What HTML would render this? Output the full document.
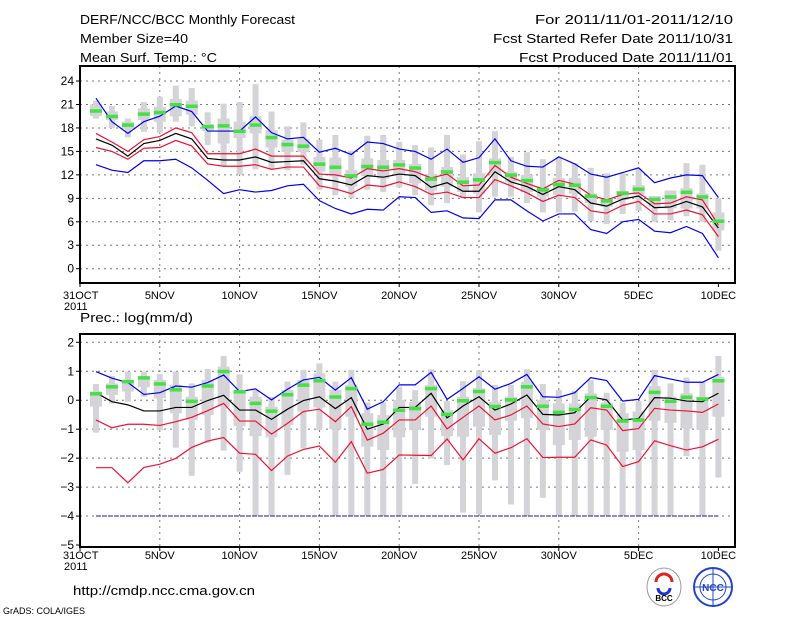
<!DOCTYPE html>
<html><head><meta charset="utf-8"><style>
body{margin:0;background:#fff;width:800px;height:618px;overflow:hidden;font-family:"Liberation Sans",sans-serif}
svg{position:absolute;left:0;top:0}
</style></head><body>
<svg id="c" width="800" height="618" xmlns="http://www.w3.org/2000/svg" font-family="Liberation Sans, sans-serif">
<text x="80" y="24" font-size="13" textLength="215" lengthAdjust="spacingAndGlyphs">DERF/NCC/BCC Monthly Forecast</text>
<text x="80" y="43" font-size="13" textLength="108" lengthAdjust="spacingAndGlyphs">Member Size=40</text>
<text x="80" y="62" font-size="13" textLength="137" lengthAdjust="spacingAndGlyphs">Mean Surf. Temp.: °C</text>
<text x="535" y="24" font-size="13" textLength="198" lengthAdjust="spacingAndGlyphs">For 2011/11/01-2011/12/10</text>
<text x="493" y="43" font-size="13" textLength="240" lengthAdjust="spacingAndGlyphs">Fcst Started Refer Date 2011/10/31</text>
<text x="519" y="62" font-size="13" textLength="214" lengthAdjust="spacingAndGlyphs">Fcst Produced Date 2011/11/01</text>
<text x="80" y="322" font-size="13" textLength="113" lengthAdjust="spacingAndGlyphs">Prec.: log(mm/d)</text>
<text x="73" y="595" font-size="13" textLength="182" lengthAdjust="spacingAndGlyphs">http://cmdp.ncc.cma.gov.cn</text>
<text x="3" y="614" font-size="9" textLength="82" lengthAdjust="spacingAndGlyphs">GrADS: COLA/IGES</text>
<g><ellipse cx="664" cy="587" rx="17" ry="19" fill="#fff" stroke="#999"/><path d="M656 582 a8 8 0 1 1 16 0" fill="none" stroke="#d22" stroke-width="3"/><path d="M658 588 a6 6 0 0 0 12 0" fill="none" stroke="#23c" stroke-width="3"/><text x="664" y="601" font-size="8" text-anchor="middle" font-weight="bold">BCC</text></g>
<g><circle cx="713" cy="587" r="19" fill="#fff" stroke="#24c" stroke-width="2"/><circle cx="713" cy="587" r="13" fill="none" stroke="#24c"/><line x1="694" y1="587" x2="732" y2="587" stroke="#24c"/><line x1="713" y1="568" x2="713" y2="606" stroke="#24c"/><text x="713" y="591" font-size="10" text-anchor="middle" fill="#24c" font-weight="bold">NCC</text></g>
</svg>
<script>
// ---------- Temperature data (days 1..40 = Nov1..Dec10) ----------
const tBlueHi=[21.8,18.8,17.3,18.8,19.5,20.8,20.1,17.6,17.6,17.6,19.4,17.4,16.6,16.8,14.9,15.4,14.6,16.2,16.0,15.3,15.0,14.0,15.3,13.6,14.2,16.6,13.8,13.1,13.0,14.3,13.4,12.1,11.7,12.3,12.9,11.0,11.6,12.0,11.9,9.1];
const tRedHi=[17.3,16.2,15.0,16.5,16.9,18.0,17.4,14.7,14.7,14.7,15.3,14.4,14.4,14.4,12.1,12.0,11.6,12.8,12.5,12.8,12.4,11.6,12.1,10.6,10.7,13.2,11.7,10.9,10.2,11.3,10.8,9.4,8.8,9.5,9.7,8.3,8.4,9.2,8.8,5.6];
const tMid=[16.6,15.8,14.4,16.0,16.4,17.3,16.6,14.1,13.9,13.9,14.3,13.6,13.7,13.8,11.5,11.2,10.7,11.9,11.7,12.1,11.9,10.4,11.0,9.9,9.9,12.4,11.1,10.5,9.5,10.5,10.1,8.4,8.0,8.9,9.3,7.8,7.9,8.6,7.9,5.2];
const tRedLo=[15.5,15.0,14.0,15.4,15.5,16.4,15.7,13.4,13.1,13.1,13.3,12.7,13.0,13.0,10.6,10.2,9.6,10.7,10.5,11.1,10.5,9.5,9.8,9.1,9.1,11.4,10.6,9.7,8.6,9.4,9.1,7.4,7.1,8.1,8.6,7.0,7.0,7.5,6.9,4.1];
const tBlueLo=[13.3,12.6,12.3,13.8,13.8,14.0,12.9,11.3,9.6,10.1,9.8,10.0,10.6,10.8,8.7,7.7,7.0,7.6,7.5,9.2,9.1,7.2,7.4,6.5,6.4,8.8,8.8,7.4,6.1,7.0,7.0,5.0,4.5,6.0,6.3,4.8,4.6,5.4,4.5,1.4];
const tMean=[20.2,19.5,18.4,19.8,20.0,21.0,20.8,18.2,18.3,17.6,18.4,16.8,15.9,15.7,13.4,13.0,11.9,13.1,13.0,13.3,12.9,11.5,12.4,11.1,11.4,13.6,12.0,11.3,10.1,10.8,10.7,9.3,8.7,9.7,10.2,8.9,9.2,9.8,9.2,6.1];
const tMax=[21.5,20.8,19.2,21.3,22.0,23.4,23.1,20.0,21.1,21.3,23.6,20.1,18.2,18.7,16.5,17.1,15.1,17.0,17.1,16.2,15.8,15.5,17.1,14.6,16.3,17.6,14.3,14.9,14.0,14.3,13.5,12.9,12.2,12.2,12.8,9.3,10.0,13.5,13.3,9.0];
const tQ3=[21.0,20.1,18.8,20.5,20.7,21.7,21.5,18.5,19.2,18.8,19.5,17.7,16.5,16.6,14.3,14.2,12.6,14.1,13.9,13.9,13.4,12.1,13.0,11.7,12.2,14.1,12.4,12.0,10.5,11.6,11.6,9.6,8.9,9.9,10.7,9.3,10.0,10.3,9.6,7.2];
const tQ1=[19.5,19.0,17.9,19.0,18.8,19.5,19.7,17.6,16.0,16.7,17.3,15.5,14.9,14.9,12.4,11.8,10.5,11.8,11.5,12.0,10.9,10.0,10.5,9.8,9.6,12.0,11.1,9.8,9.2,9.4,9.6,8.4,7.9,8.8,9.5,7.9,7.7,7.7,7.7,4.9];
const tMin=[19.2,18.0,16.8,17.5,17.4,18.8,18.2,15.8,13.1,12.0,12.7,12.7,12.6,13.3,10.1,9.4,9.0,10.1,9.8,10.4,9.4,8.1,8.4,9.0,7.2,9.2,9.2,8.4,7.2,7.2,7.3,6.1,5.7,7.0,7.4,6.0,6.2,6.7,6.0,2.3];
const tTicks=[0,3,6,9,12,15,18,21,24];
// ---------- Precipitation data ----------
const pBlue=[0.99,0.76,0.61,0.20,0.26,0.49,0.45,0.61,0.87,0.30,0.39,0.01,0.38,0.70,0.79,0.35,0.78,-0.31,-0.05,0.53,0.53,0.96,0.03,0.41,0.81,0.38,0.58,0.89,0.12,0.10,0.26,0.78,0.68,-0.03,0.03,0.85,0.73,0.62,0.62,0.89];
const pMid=[0.26,-0.05,-0.16,-0.37,-0.37,-0.25,-0.25,-0.01,0.17,-0.34,-0.34,-0.66,-0.31,-0.01,0.12,-0.29,0.09,-1.00,-0.82,-0.25,-0.25,0.24,-0.61,-0.20,0.12,-0.34,-0.13,0.18,-0.49,-0.51,-0.43,0.12,0.01,-0.68,-0.63,0.09,0.07,-0.03,-0.05,0.24];
const pRedHi=[-0.68,-0.95,-0.83,-0.83,-0.87,-0.74,-0.59,-0.36,-0.11,-0.72,-0.72,-1.17,-0.80,-0.39,-0.31,-0.74,-0.22,-1.38,-1.14,-0.68,-0.68,-0.20,-0.99,-0.59,-0.20,-0.68,-0.51,-0.20,-0.82,-0.91,-0.82,-0.26,-0.34,-1.05,-0.98,-0.28,-0.34,-0.37,-0.42,-0.13];
const pRedLo=[-2.33,-2.33,-2.85,-2.32,-2.21,-2.01,-1.63,-1.41,-1.29,-1.83,-1.87,-2.43,-1.93,-1.70,-1.58,-2.14,-1.43,-2.52,-2.39,-1.89,-1.90,-1.91,-1.34,-2.06,-1.33,-1.83,-1.64,-1.33,-1.98,-1.97,-1.97,-1.37,-1.55,-2.29,-2.12,-1.40,-1.57,-1.72,-1.61,-1.35];
const pMean=[0.23,0.47,0.65,0.78,0.57,0.37,-0.03,0.50,1.00,0.30,-0.10,-0.37,0.20,0.53,0.68,0.12,0.41,-0.82,-0.75,-0.34,-0.28,0.41,-0.48,-0.01,0.31,-0.21,0.02,0.47,-0.20,-0.41,-0.31,0.10,-0.20,-0.71,-0.68,0.28,-0.03,0.11,0.05,0.68];
const pMax=[0.56,0.84,0.99,0.99,0.91,0.99,0.58,1.08,1.53,0.89,0.35,0.12,0.64,1.05,1.27,0.64,1.05,-0.08,-0.08,0.47,0.35,1.07,-0.03,0.66,1.02,0.53,0.53,1.07,0.56,0.35,0.33,0.70,0.26,-0.08,-0.03,1.05,0.58,0.78,0.64,1.53];
const pQ3=[0.30,0.58,0.70,0.81,0.70,0.53,0.12,0.70,1.16,0.35,0.12,-0.22,0.35,0.70,0.93,0.35,0.53,-0.45,-0.51,0.01,-0.05,0.53,-0.34,0.12,0.41,-0.05,0.12,0.64,0.01,-0.11,-0.11,0.24,-0.08,-0.45,-0.39,0.49,0.12,0.24,0.12,0.81];
const pQ1=[-0.22,0.18,0.30,0.45,0.07,-0.45,-0.68,-0.51,-0.22,-0.89,-1.24,-1.28,-0.86,-0.39,-0.25,-1.00,-0.57,-1.60,-1.72,-1.28,-1.03,-0.57,-1.24,-1.26,-0.91,-1.20,-0.71,-0.62,-1.03,-1.55,-1.37,-1.26,-1.03,-1.78,-1.72,-0.71,-0.78,-0.97,-1.03,-0.57];
const pMin=[-1.12,-0.11,-0.05,0.12,-1.03,-1.64,-2.61,-1.47,-1.74,-2.47,-3.99,-3.99,-2.58,-1.66,-1.03,-3.99,-3.99,-3.99,-3.99,-3.99,-2.89,-2.01,-2.24,-3.88,-3.93,-2.77,-3.60,-3.99,-3.37,-3.99,-3.99,-3.99,-3.99,-3.99,-3.99,-3.99,-3.99,-1.93,-3.99,-2.67];
const pFloor=-4;
const pTicks=[-5,-4,-3,-2,-1,0,1,2];
const xTickDays=[0,5,10,15,20,25,30,35,40];
const xTickLabels=['31OCT','5NOV','10NOV','15NOV','20NOV','25NOV','30NOV','5DEC','10DEC'];

const NS='http://www.w3.org/2000/svg';
const svg=document.getElementById('c');
const X0=80,X1=735,DX=15.96;
function xd(d){return X0+d*DX;}
function mk(tag,attrs,parent){const e=document.createElementNS(NS,tag);for(const k in attrs)e.setAttribute(k,attrs[k]);(parent||svg).appendChild(e);return e;}

function panel(name,top,bot,yOf,ticks,series,box,labY){
  const g=mk('g',{});
  
  
  ticks.forEach(t=>{const y=yOf(t);if(y>top+2&&y<bot-2){const l=mk('line',{x1:X0,x2:X1,y1:y,y2:y,stroke:'#777','stroke-dasharray':'2,4','stroke-width':1},g);}
    const tk=mk('line',{x1:X0-4,x2:X0,y1:y,y2:y,stroke:'#000'},g);
    const tx=mk('text',{x:X0-6,y:y+4,'font-size':12,'text-anchor':'end'},g);tx.textContent=(t<0?'\u2212'+(-t):t);});
  xTickDays.forEach((d,i)=>{const x=xd(d);if(d>0&&d<40){const l=mk('line',{x1:x,x2:x,y1:top,y2:bot,stroke:'#777','stroke-dasharray':'2,4'},g);}
    const tk=mk('line',{x1:x,x2:x,y1:bot,y2:bot+4,stroke:'#000'},g);
    const tx=mk('text',{x:d==0?x-17:x,y:labY,'font-size':11,'text-anchor':d==0?'start':'middle'},g);tx.textContent=xTickLabels[i];});
  const yr=mk('text',{x:X0-16,y:labY+11,'font-size':11},g);yr.textContent='2011';
  for(let i=0;i<40;i++){const x=xd(i+1);
    const w=mk('rect',{x:x-3,y:yOf(box.max[i]),width:6,height:yOf(box.min[i])-yOf(box.max[i]),fill:'#d3d3d8'},g);
    const b=mk('rect',{x:x-6,y:yOf(box.q3[i]),width:12,height:yOf(box.q1[i])-yOf(box.q3[i]),fill:'#d3d3d8'},g);}
  if(box.floor!==undefined){const f=mk('line',{x1:xd(1),x2:xd(40),y1:yOf(box.floor),y2:yOf(box.floor),stroke:'#1a1a99','stroke-dasharray':'5,1'},g);}
  series.forEach(s=>{const p=mk('polyline',{points:s.v.map((v,i)=>xd(i+1)+','+yOf(v)).join(' '),fill:'none',stroke:s.c,'stroke-width':1.2},g);});
  for(let i=0;i<40;i++){const x=xd(i+1);const m=mk('rect',{x:x-6,y:yOf(box.mean[i])-1.5,width:12,height:3.5,fill:'#44e044'},g);}
  const fr=mk('rect',{x:X0,y:top,width:X1-X0,height:bot-top,fill:'none',stroke:'#000','stroke-width':2},g);
}
const tY=v=>268.7-v*7.82;
panel('temperature',66,283,tY,tTicks,[
 {v:tBlueHi,c:'#0000ee',n:'temp-upper-blue-line'},{v:tBlueLo,c:'#0000ee',n:'temp-lower-blue-line'},
 {v:tRedHi,c:'#ee1133',n:'temp-upper-red-line'},{v:tRedLo,c:'#ee1133',n:'temp-lower-red-line'},
 {v:tMid,c:'#000',n:'temp-median-line'}],
 {max:tMax,q3:tQ3,q1:tQ1,min:tMin,mean:tMean},299);
const pY=v=>342.3+(2-v)*28.96;
panel('precipitation',334,547,pY,pTicks,[
 {v:pBlue,c:'#0000ee',n:'precip-upper-blue-line'},
 {v:pRedHi,c:'#ee1133',n:'precip-upper-red-line'},{v:pRedLo,c:'#ee1133',n:'precip-lower-red-line'},
 {v:pMid,c:'#000',n:'precip-median-line'}],
 {max:pMax,q3:pQ3,q1:pQ1,min:pMin,mean:pMean,floor:pFloor},559);
</script>
</body></html>
